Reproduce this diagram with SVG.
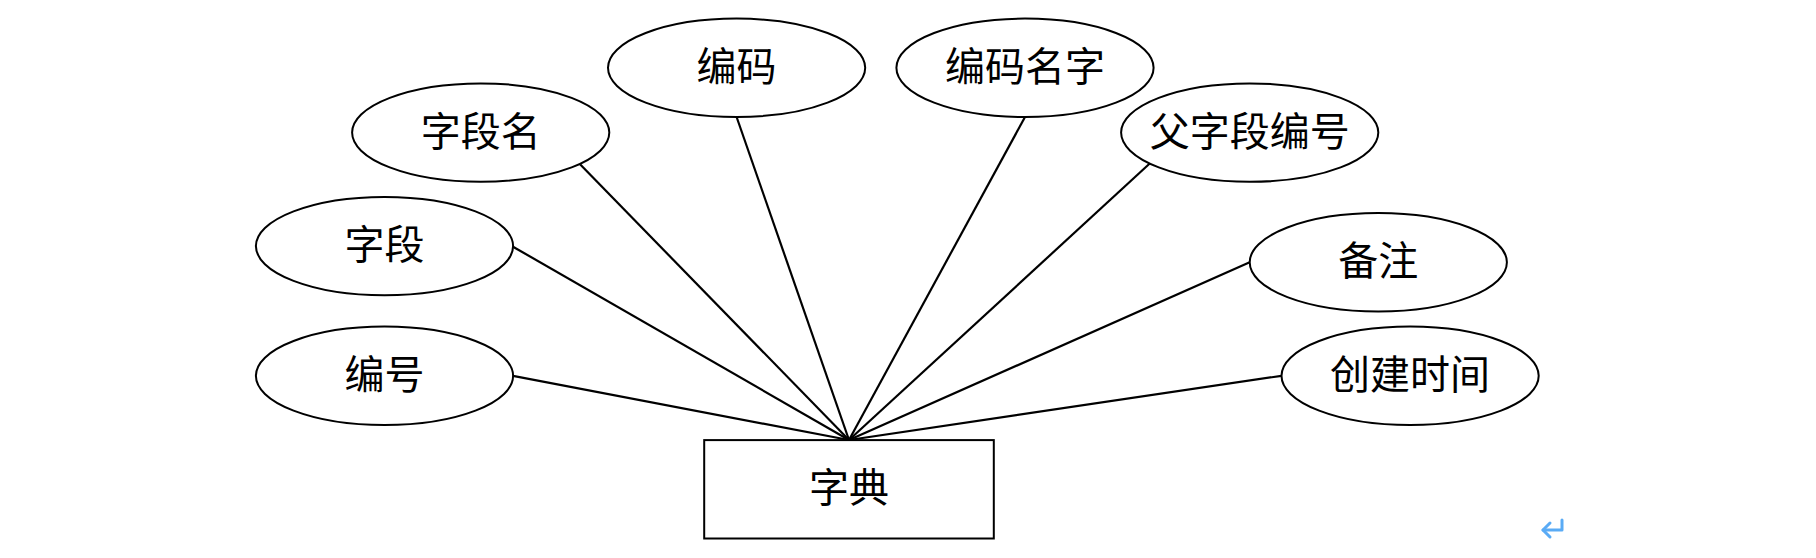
<svg xmlns="http://www.w3.org/2000/svg" width="1816" height="558" viewBox="0 0 1816 558">
<style>
.attr{fill:#fff;stroke:#000;stroke-width:2}
.ent{fill:#fff;stroke:#000;stroke-width:2}
.lbl{font-family:"Liberation Serif","Noto Sans CJK SC",serif;font-size:40px;fill:#000;text-anchor:middle}
.conn line{stroke:#000;stroke-width:2.2}
</style>
<rect width="1816" height="558" fill="#fff"/>
<g id="connectors" class="conn">
<line x1="513" y1="375.8" x2="849" y2="440"/>
<line x1="513" y1="246.7" x2="849" y2="440"/>
<line x1="580.3" y1="164.5" x2="849" y2="440"/>
<line x1="736.6" y1="117" x2="849" y2="440"/>
<line x1="1025" y1="117" x2="849" y2="440"/>
<line x1="1150" y1="163.3" x2="849" y2="440"/>
<line x1="1249.7" y1="262.3" x2="849" y2="440"/>
<line x1="1281.5" y1="375.8" x2="849" y2="440"/>
</g>
<g id="n-zidian"><rect class="ent" x="704.2" y="440.1" width="289.6" height="98.4"/><text class="lbl" x="849" y="502">字典</text></g>
<g id="n-ziduanming"><ellipse class="attr" cx="480.7" cy="132.6" rx="128.6" ry="49.2"/><text class="lbl" x="480.7" y="145.6">字段名</text></g>
<g id="n-bianma"><ellipse class="attr" cx="736.6" cy="67.8" rx="128.6" ry="49.2"/><text class="lbl" x="736.6" y="80.8">编码</text></g>
<g id="n-bianmamingzi"><ellipse class="attr" cx="1025" cy="67.8" rx="128.6" ry="49.2"/><text class="lbl" x="1025" y="80.8">编码名字</text></g>
<g id="n-fuziduanbianhao"><ellipse class="attr" cx="1249.7" cy="132.6" rx="128.6" ry="49.2"/><text class="lbl" x="1249.7" y="145.6">父字段编号</text></g>
<g id="n-ziduan"><ellipse class="attr" cx="384.5" cy="246.1" rx="128.6" ry="49.2"/><text class="lbl" x="384.5" y="259.1">字段</text></g>
<g id="n-beizhu"><ellipse class="attr" cx="1378.3" cy="262.3" rx="128.6" ry="49.2"/><text class="lbl" x="1378.3" y="275.3">备注</text></g>
<g id="n-bianhao"><ellipse class="attr" cx="384.5" cy="375.8" rx="128.6" ry="49.2"/><text class="lbl" x="384.5" y="388.8">编号</text></g>
<g id="n-chuangjianshijian"><ellipse class="attr" cx="1410.1" cy="375.8" rx="128.6" ry="49.2"/><text class="lbl" x="1410.1" y="388.8">创建时间</text></g>
<g id="return-mark" fill="none" stroke="#5aabf5" stroke-width="3" stroke-linecap="round" stroke-linejoin="round">
<polyline points="1562,520 1562,530 1543,530"/>
<polyline points="1550,523 1543,530 1550,537"/>
</g>
</svg>
